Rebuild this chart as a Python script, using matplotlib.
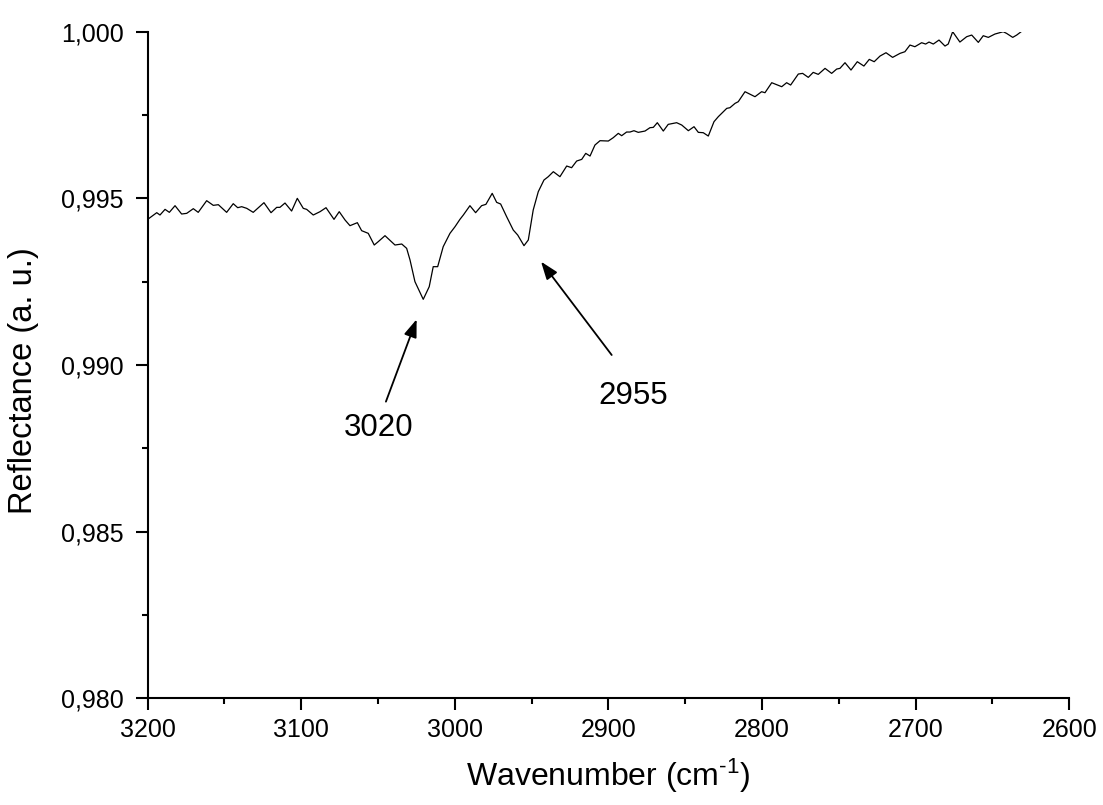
import matplotlib
matplotlib.use("Agg")
import matplotlib.pyplot as plt
from matplotlib.ticker import MultipleLocator, FuncFormatter

plt.rcParams['font.family'] = ['Liberation Sans', 'DejaVu Sans']
plt.rcParams['mathtext.fontset'] = 'custom'
plt.rcParams['mathtext.rm'] = 'Liberation Sans'
plt.rcParams['mathtext.it'] = 'Liberation Sans:italic'
plt.rcParams['mathtext.bf'] = 'Liberation Sans:bold'

# Reflectance spectrum (wavenumber in cm^-1, reflectance in a. u.)
wavenumber = [
    3200.0, 3194.1, 3192.0, 3188.7, 3185.9, 3182.2, 3177.9, 3174.6, 3170.3, 3167.1,
    3161.6, 3157.3, 3154.0, 3148.6, 3144.3, 3141.4, 3138.8, 3135.5, 3131.3, 3124.3,
    3119.7, 3116.0, 3113.9, 3110.6, 3106.3, 3102.6, 3098.7, 3096.5, 3092.2, 3087.8,
    3083.9, 3078.7, 3075.3, 3071.5, 3068.3, 3063.5, 3060.7, 3056.4, 3052.5, 3049.9,
    3045.5, 3039.0, 3034.6, 3031.4, 3029.2, 3026.0, 3020.6, 3016.7, 3014.1, 3011.2,
    3007.6, 3003.2, 2999.9, 2996.7, 2994.5, 2990.2, 2986.5, 2982.6, 2979.8, 2975.7,
    2972.8, 2970.2, 2966.3, 2962.0, 2959.1, 2955.0, 2952.2, 2949.0, 2945.7, 2942.0,
    2939.2, 2935.9, 2931.6, 2927.2, 2924.0, 2920.7, 2917.4, 2914.8, 2912.0, 2908.8,
    2905.5, 2900.1, 2896.9, 2893.6, 2891.4, 2888.2, 2886.0, 2883.4, 2880.6, 2876.2,
    2873.0, 2870.8, 2868.2, 2864.3, 2861.1, 2855.6, 2852.3, 2848.0, 2844.3, 2841.5,
    2838.3, 2835.0, 2831.3, 2828.5, 2823.0, 2820.9, 2817.6, 2815.5, 2811.1, 2804.6,
    2800.3, 2798.1, 2793.7, 2787.2, 2784.0, 2781.4, 2776.4, 2773.6, 2769.9, 2766.7,
    2763.4, 2759.0, 2754.7, 2751.4, 2749.3, 2746.0, 2742.1, 2738.0, 2733.7, 2730.2,
    2727.0, 2723.2, 2719.3, 2715.0, 2710.2, 2707.0, 2703.7, 2700.5, 2696.1, 2693.5,
    2691.3, 2688.5, 2684.8, 2680.9, 2678.8, 2675.9, 2671.2, 2666.8, 2663.5, 2659.2,
    2656.0, 2652.7, 2648.4, 2643.0, 2640.8, 2636.8, 2634.2, 2629.9,
]
reflectance = [
    0.99437, 0.99457, 0.99450, 0.99467, 0.99458, 0.99478, 0.99453, 0.99455, 0.99469, 0.99458,
    0.99493, 0.99479, 0.99481, 0.99458, 0.99484, 0.99472, 0.99475, 0.99470, 0.99458, 0.99487,
    0.99457, 0.99473, 0.99473, 0.99486, 0.99462, 0.99500, 0.99470, 0.99467, 0.99450, 0.99460,
    0.99472, 0.99437, 0.99460, 0.99435, 0.99418, 0.99427, 0.99403, 0.99395, 0.99360, 0.99370,
    0.99388, 0.99360, 0.99363, 0.99350, 0.99315, 0.99250, 0.99197, 0.99235, 0.99295, 0.99295,
    0.99355, 0.99395, 0.99415, 0.99437, 0.99450, 0.99478, 0.99457, 0.99478, 0.99482, 0.99515,
    0.99488, 0.99483, 0.99445, 0.99405, 0.99390, 0.99358, 0.99375, 0.99465, 0.99520, 0.99555,
    0.99565, 0.99580, 0.99565, 0.99597, 0.99592, 0.99612, 0.99617, 0.99635, 0.99627, 0.99660,
    0.99673, 0.99672, 0.99682, 0.99695, 0.99688, 0.99699, 0.99699, 0.99703, 0.99698, 0.99702,
    0.99712, 0.99713, 0.99727, 0.99702, 0.99722, 0.99727, 0.99720, 0.99703, 0.99715, 0.99698,
    0.99697, 0.99687, 0.99730, 0.99745, 0.99770, 0.99772, 0.99785, 0.99790, 0.99820, 0.99805,
    0.99820, 0.99817, 0.99847, 0.99835, 0.99847, 0.99840, 0.99873, 0.99875, 0.99863, 0.99878,
    0.99872, 0.99890, 0.99875, 0.99888, 0.99890, 0.99907, 0.99885, 0.99910, 0.99897, 0.99917,
    0.99910, 0.99927, 0.99937, 0.99923, 0.99935, 0.99940, 0.99960, 0.99955, 0.99967, 0.99963,
    0.99969, 0.99963, 0.99975, 0.99957, 0.99963, 1.00000, 0.99969, 0.99985, 0.99990, 0.99968,
    0.99988, 0.99983, 0.99993, 1.00000, 0.99995, 0.99983, 0.99990, 1.00005,
]

# Band annotations: label, band minimum (arrow head), label position
peak_labels = ["3020", "2955"]
peak_heads = [(3024.9, 0.99137), (2943.9, 0.99310)]
peak_tails = [(3044.9, 0.98890), (2897.9, 0.99030)]
label_pos = [(3049.9, 0.98810), (2883.9, 0.98907)]

fig = plt.figure(figsize=(11.03, 8.05), dpi=100)
ax = fig.add_axes([0.1339, 0.1326, 0.9694 - 0.1339, 0.9606 - 0.1326])

ax.plot(wavenumber, reflectance, color='black', lw=0.9)

for lab, head, tail, pos in zip(peak_labels, peak_heads, peak_tails, label_pos):
    ax.annotate("", xy=head, xytext=tail,
                arrowprops=dict(arrowstyle="-|>,head_length=0.6,head_width=0.22",
                                color='black', lw=1.3,
                                mutation_scale=18, shrinkA=0, shrinkB=0))
    ax.text(pos[0], pos[1], lab, ha='center', va='center', fontsize=22.5)

ax.set_xlim(3200, 2600)
ax.set_ylim(0.980, 1.000)
ax.xaxis.set_major_locator(MultipleLocator(100))
ax.xaxis.set_minor_locator(MultipleLocator(50))
ax.yaxis.set_major_locator(MultipleLocator(0.005))
ax.yaxis.set_minor_locator(MultipleLocator(0.0025))
ax.yaxis.set_major_formatter(FuncFormatter(lambda v, p: f"{v:.3f}".replace('.', ',')))
ax.xaxis.set_major_formatter(FuncFormatter(lambda v, p: f"{v:.0f}"))

for s in ['top', 'right']:
    ax.spines[s].set_visible(False)
for s in ['left', 'bottom']:
    ax.spines[s].set_linewidth(1.5)

ax.tick_params(which='major', direction='out', length=8.5, width=1.5, labelsize=18)
ax.tick_params(axis='y', which='major', pad=9)
ax.tick_params(axis='x', which='major', pad=6)
ax.tick_params(which='minor', direction='out', length=4.5, width=1.5)

ax.set_xlabel(r"Wavenumber (cm$^{\text{-1}}$)", fontsize=23, labelpad=10)
ax.set_ylabel("Reflectance (a. u.)", fontsize=23.5)
ax.yaxis.set_label_coords(-0.118, 0.477)

fig.savefig("out.png", dpi=100)
